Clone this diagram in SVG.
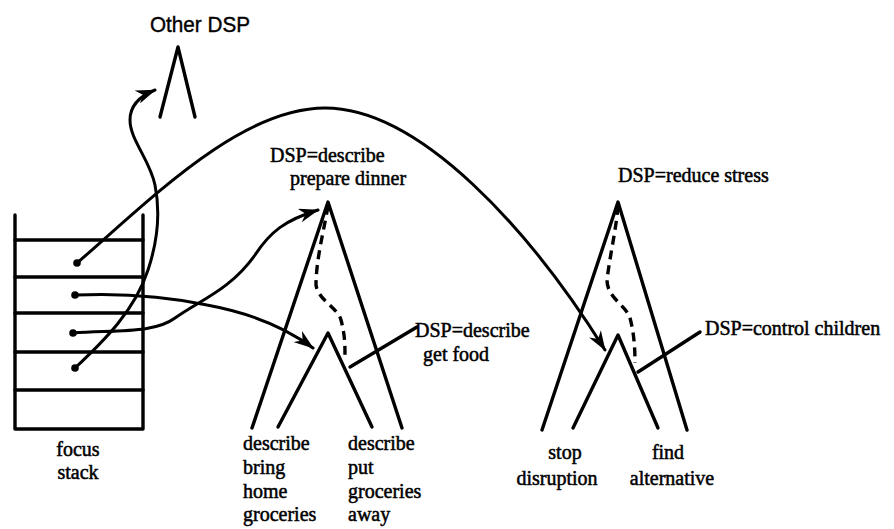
<svg xmlns="http://www.w3.org/2000/svg" width="894" height="529" viewBox="0 0 894 529">
<style>
.t{font-family:"Liberation Serif","Times New Roman",serif;font-size:20px;fill:#000;stroke:#000;stroke-width:0.5}
.h{font-family:"Liberation Sans",Arial,sans-serif;font-size:22px;fill:#000;stroke:#000;stroke-width:0.4}
.ln{fill:none;stroke:#000;stroke-width:3.4;stroke-linecap:round;stroke-linejoin:round}
.dash{fill:none;stroke:#000;stroke-width:3.4;stroke-dasharray:9 6}
.cv{fill:none;stroke:#000;stroke-width:3;stroke-linecap:round}
</style>
<defs>
<marker id="ah" viewBox="0 0 20 14" refX="19" refY="7" markerUnits="userSpaceOnUse" markerWidth="20" markerHeight="14" orient="auto">
<path d="M0,0 L20,7 L0,14 L6,7 z" fill="#000"/>
</marker>
</defs>
<rect width="894" height="529" fill="#fff"/>

<g id="other-dsp">
<text class="h" x="150" y="32" textLength="100" lengthAdjust="spacingAndGlyphs">Other DSP</text>
<path class="ln" d="M160,117 L178,47 L195,117"/>
</g>

<g id="focus-stack">
<path class="ln" d="M15,215 L15,429 L143,429 L143,215"/>
<path class="ln" d="M15,240 H143 M15,277 H143 M15,313 H143 M15,352 H143 M15,390 H143"/>
<circle cx="77" cy="263" r="3.8"/>
<circle cx="75" cy="295" r="3.8"/>
<circle cx="73" cy="333" r="3.8"/>
<circle cx="75" cy="368" r="3.8"/>
<text class="t" x="78" y="456" text-anchor="middle">focus</text>
<text class="t" x="78" y="479" text-anchor="middle">stack</text>
</g>

<g id="tree-dinner">
<path class="ln" d="M252,428 L328,202 L402,428"/>
<path class="ln" d="M278,427 L328,333 L372,427"/>
<path class="dash" d="M328,206 C324,230 316,260 316,285 C318,300 338,308 341,320 C345,335 345,345 345,358"/>
<path class="ln" d="M350,367 L417,327"/>
<text class="t" x="270" y="162">DSP=describe</text>
<text class="t" x="290" y="185">prepare dinner</text>
<text class="t" x="415" y="337">DSP=describe</text>
<text class="t" x="423" y="361">get food</text>
<text class="t" x="243" y="450">describe</text>
<text class="t" x="243" y="474">bring</text>
<text class="t" x="243" y="498">home</text>
<text class="t" x="243" y="521">groceries</text>
<text class="t" x="348" y="450">describe</text>
<text class="t" x="348" y="474">put</text>
<text class="t" x="348" y="498">groceries</text>
<text class="t" x="348" y="521">away</text>
</g>

<g id="tree-stress">
<path class="ln" d="M542,430 L618,202 L687,430"/>
<path class="ln" d="M573,428 L618,335 L658,428"/>
<path class="dash" d="M618,206 C616,230 610,255 607,280 C607,298 626,305 630,318 C634,333 635,348 635,363"/>
<path class="ln" d="M638,372 L700,332"/>
<text class="t" x="618" y="182">DSP=reduce stress</text>
<text class="t" x="705" y="335">DSP=control children</text>
<text class="t" x="565" y="459" text-anchor="middle">stop</text>
<text class="t" x="557" y="485" text-anchor="middle">disruption</text>
<text class="t" x="668" y="459" text-anchor="middle">find</text>
<text class="t" x="672" y="485" text-anchor="middle">alternative</text>
</g>

<g id="connectors">
<path class="cv" marker-end="url(#ah)" d="M77,263 C150,200 240,108 325,108 C420,108 530,230 605,350"/>
<path class="cv" marker-end="url(#ah)" d="M75,295 C120,293 160,295 207,305 C250,313 285,327 313,348"/>
<path class="cv" marker-end="url(#ah)" d="M73,333 C120,330 155,333 175,318 C200,300 230,290 255,255 C270,232 285,220 318,210"/>
<path class="cv" marker-end="url(#ah)" d="M75,368 C105,340 135,310 148,270 C158,240 160,210 155,185 C150,160 130,140 130,120 C130,105 140,96 155,90"/>
</g>
</svg>
